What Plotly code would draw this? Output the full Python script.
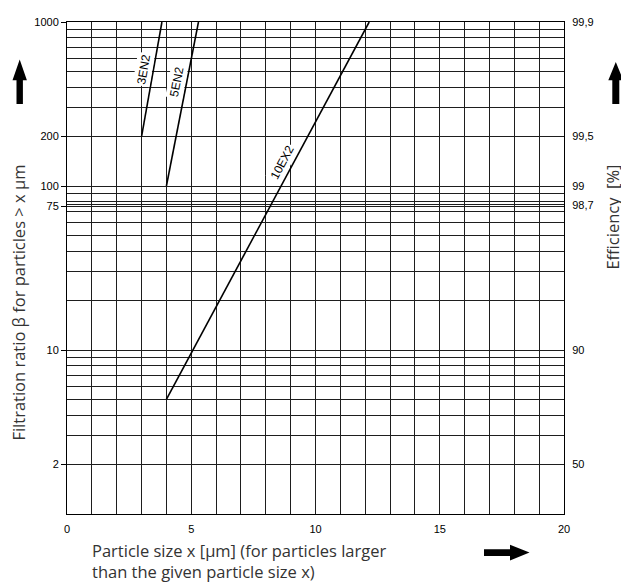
import plotly.graph_objects as go
import math

# ---- data ----
series_names = ["3EN2", "5EN2", "10EX2"]
x_3EN2 = [3.0, 3.82]
beta_3EN2 = [200, 1000]
x_5EN2 = [4.0, 5.29]
beta_5EN2 = [100, 1000]
x_10EX2 = [4.0, 12.16]
beta_10EX2 = [5, 1000]

x_ticks = [0, 5, 10, 15, 20]
beta_ticks = [2, 10, 75, 100, 200, 1000]
beta_tick_labels = ["2", "10", "75", "100", "200", "1000"]
eff_tick_beta = [2, 10, 76.9, 100, 200, 1000]
eff_tick_labels = ["50", "90", "98,7", "99", "99,5", "99,9"]
beta_minor_grid = [3, 4, 5, 6, 7, 8, 9, 20, 30, 40, 50, 60, 70, 76.9, 80, 90,
                   300, 400, 500, 600, 700, 800, 900]

# label anchor positions (x, beta, angle)
label_pos = {"3EN2": (3.08, 510, -80), "5EN2": (4.42, 430, -79), "10EX2": (8.64, 139, -62)}

# page body has an 8px margin: compensate so the plot lands where the reference has it
OFF = 8
W, H = 629 - OFF, 582 - OFF
L, R, T, B = 67 - OFF, 65, 16 - OFF, 68
PW, PH = W - L - R, H - T - B


def px(xp):
    return (xp - OFF - L) / PW


def py(yp):
    return (H - B - (yp - OFF)) / PH


GRID = "#1e1e1e"
TICKFONT = dict(family="Liberation Sans, Arial, sans-serif", size=11, color="#000")
TITLEFONT = dict(family="Open Sans, sans-serif", size=16.5, color="#333")

fig = go.Figure()
series = [(x_3EN2, beta_3EN2, "y"), (x_5EN2, beta_5EN2, "y"), (x_10EX2, beta_10EX2, "y2")]
for name, (xs, ys, ax) in zip(series_names, series):
    fig.add_trace(go.Scatter(x=xs, y=ys, mode="lines", name=name, yaxis=ax,
                             line=dict(color="#000", width=1.6), showlegend=False,
                             hoverinfo="skip"))

fig.update_layout(
    width=W, height=H, autosize=False,
    margin=dict(l=L, r=R, t=T, b=B),
    paper_bgcolor="white", plot_bgcolor="white",
    showlegend=False,
    xaxis=dict(range=[0, 20], tickvals=x_ticks, ticktext=[str(v) for v in x_ticks],
               showgrid=True, gridcolor=GRID, gridwidth=1,
               minor=dict(dtick=1, showgrid=True, gridcolor=GRID, gridwidth=1, ticks=""),
               showline=True, linecolor="#000", linewidth=1, mirror=True,
               ticks="outside", ticklen=5, tickcolor="rgba(0,0,0,0)",
               tickfont=TICKFONT, zeroline=False, fixedrange=True),
    yaxis=dict(type="log", range=[0, 3], tickvals=beta_ticks, ticktext=beta_tick_labels,
               showgrid=True, gridcolor=GRID, gridwidth=1,
               minor=dict(tickmode="array", tickvals=beta_minor_grid, showgrid=True,
                          gridcolor=GRID, gridwidth=1, ticks=""),
               showline=True, linecolor="#000", linewidth=1,
               ticks="outside", ticklen=5, tickcolor="#000", tickwidth=1,
               tickfont=TICKFONT, zeroline=False, fixedrange=True),
    yaxis2=dict(type="log", range=[0, 3], overlaying="y", side="right",
                tickvals=eff_tick_beta, ticktext=eff_tick_labels,
                showgrid=False, showline=True, linecolor="#000", linewidth=1,
                ticks="outside", ticklen=5, tickcolor="rgba(0,0,0,0)",
                tickfont=TICKFONT, zeroline=False, fixedrange=True),
)

# curve labels
for name in series_names:
    lx, lb, ang = label_pos[name]
    fig.add_annotation(x=lx, y=math.log10(lb), xref="x", yref="y", text=name,
                       showarrow=False, textangle=ang, bgcolor="white", borderpad=1,
                       font=dict(family="Liberation Sans, Arial, sans-serif", size=12, color="#000"))

# axis titles
fig.add_annotation(x=px(19), y=py(300), xref="paper", yref="paper",
                   text="Filtration ratio β for particles > x μm", textangle=-90,
                   showarrow=False, xanchor="center", yanchor="middle", font=TITLEFONT)
fig.add_annotation(x=px(613), y=py(214), xref="paper", yref="paper",
                   text="Efficiency  [%]", textangle=-90,
                   showarrow=False, xanchor="center", yanchor="middle", font=TITLEFONT)
fig.add_annotation(x=px(90), y=py(562), xref="paper", yref="paper",
                   text="Particle size x [μm] (for particles larger<br>than the given particle size x)",
                   showarrow=False, xanchor="left", yanchor="middle", align="left", font=TITLEFONT)


def up_arrow(cx, tip, base, bottom, hw, sw):
    return ("M {a},{b} L {c},{d} L {e},{d} L {e},{f} L {g},{f} L {g},{d} L {h},{d} Z".format(
        a=px(cx), b=py(tip), c=px(cx + hw), d=py(base), e=px(cx + sw), f=py(bottom),
        g=px(cx - sw), h=px(cx - hw)))


def right_arrow(cy, tip, base, left, hh, sh):
    pts = [(tip, cy), (base, cy - hh), (base, cy - sh), (left, cy - sh), (left, cy + sh),
           (base, cy + sh), (base, cy + hh)]
    return "M " + " L ".join("{},{}".format(px(a), py(b)) for a, b in pts) + " Z"


for path in [up_arrow(19.7, 54, 75, 99, 7.2, 3.2),
             up_arrow(615.8, 56.5, 75, 99, 7.5, 3.5),
             right_arrow(553, 529.5, 510, 484, 8, 3.4)]:
    fig.add_shape(type="path", path=path, xref="paper", yref="paper",
                  fillcolor="#000", line=dict(width=0), layer="above")

fig.write_html("out.html")
